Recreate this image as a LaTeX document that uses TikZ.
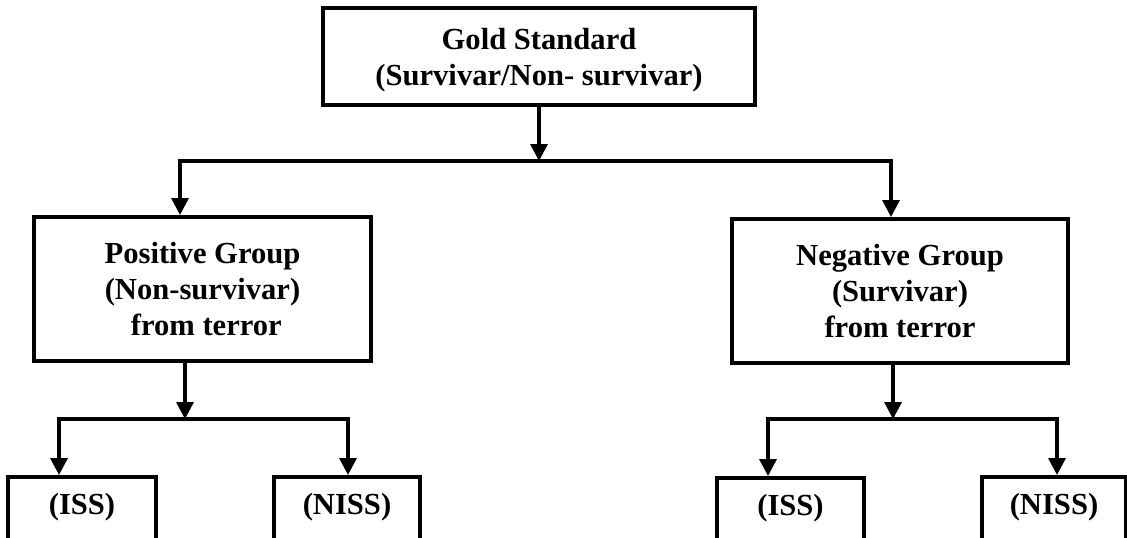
\documentclass[tikz,border=0pt]{standalone}
\usepackage{fontspec}
\setmainfont{Liberation Serif}
\usetikzlibrary{arrows.meta}
\usetikzlibrary{positioning}

\begin{document}
\begin{tikzpicture}[x=0.5pt,y=-0.5pt,
    box/.style={draw,line width=2pt,align=center,inner sep=0pt,
      font=\bfseries\fontsize{15.3}{18}\selectfont},
    leaf/.style={box,anchor=north,text height=18.5pt,text depth=20pt},
    arr/.style={line width=1.7pt,-{Triangle[width=8.5pt,length=8.5pt]}}]

  % page frame, the leaves run off the bottom
  \path[clip,use as bounding box] (0,0) rectangle (1127,537);

  % split points
  \coordinate (Split)    at (539,161);
  \coordinate (PosSplit) at (185,419);
  \coordinate (NegSplit) at (893,419);

  % setup the nodes
  \node[box,minimum width=216pt,minimum height=48.5pt] (Gold) at (539,56.5)
    {\rule{0pt}{14pt}Gold Standard\\(Survivar/Non- survivar)};
  \node[box,minimum width=168.5pt,minimum height=72pt] (Pos) at (202.5,289)
    {Positive Group\\(Non-survivar)\\\ from terror};
  \node[box,minimum width=168pt,minimum height=72pt] (Neg) at (900,291)
    {Negative Group\\(Survivar)\\from terror};

  \node[leaf,minimum width=74pt]   (IssL)  at (82,475)    {(ISS)};
  \node[leaf,minimum width=73pt]   (NissL) at (347,475)   {(NISS)};
  \node[leaf,minimum width=73.5pt] (IssR)  at (790.5,476) {(ISS)};
  \node[leaf,minimum width=72pt]   (NissR) at (1054,475)  {(NISS)};

  % first level
  \draw[arr] (Gold.south) -- (Split);
  \draw[arr] (Split) -| ([xshift=-11.25pt]Pos.north);
  \draw[arr] (Split) -| ([xshift=-4.5pt]Neg.north);

  % second level
  \draw[arr] ([xshift=-8.75pt]Pos.south) -- (PosSplit);
  \draw[arr] (PosSplit) -| ([xshift=-11.5pt]IssL.north);
  \draw[arr] (PosSplit) -| ([xshift=0.5pt]NissL.north);

  \draw[arr] ([xshift=-3.5pt]Neg.south) -- (NegSplit);
  \draw[arr] (NegSplit) -| ([xshift=-11.25pt]IssR.north);
  \draw[arr] (NegSplit) -| ([xshift=1.5pt]NissR.north);

\end{tikzpicture}
\end{document}
